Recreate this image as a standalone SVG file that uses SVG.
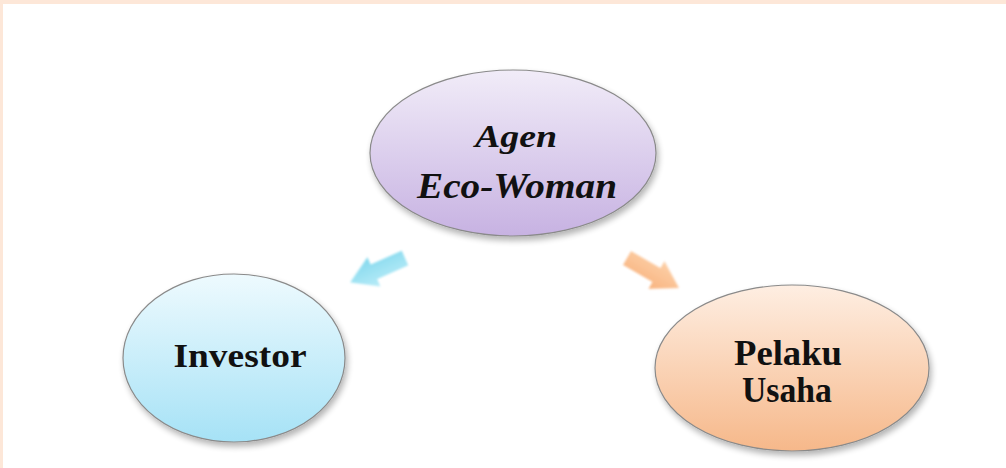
<svg xmlns="http://www.w3.org/2000/svg" width="1006" height="468" viewBox="0 0 1006 468">
<defs>
<linearGradient id="gPurple" x1="0" y1="0" x2="0" y2="1">
<stop offset="0" stop-color="#f1ecf8"/><stop offset="1" stop-color="#c7b2e2"/>
</linearGradient>
<linearGradient id="gBlue" x1="0" y1="0" x2="0" y2="1">
<stop offset="0" stop-color="#eefafe"/><stop offset="1" stop-color="#a6e2f6"/>
</linearGradient>
<linearGradient id="gOrange" x1="0" y1="0" x2="0" y2="1">
<stop offset="0" stop-color="#feeee2"/><stop offset="1" stop-color="#f6b88a"/>
</linearGradient>
<linearGradient id="gArrowBlue" x1="0" y1="0" x2="0" y2="1">
<stop offset="0" stop-color="#b9ecf8"/><stop offset="1" stop-color="#84d9ee"/>
</linearGradient>
<linearGradient id="gArrowOrange" x1="0" y1="0" x2="0" y2="1">
<stop offset="0" stop-color="#fdd0a8"/><stop offset="1" stop-color="#f8b480"/>
</linearGradient>
<filter id="shadow" x="-20%" y="-20%" width="140%" height="150%">
<feGaussianBlur in="SourceAlpha" stdDeviation="3"/>
<feOffset dx="2" dy="4" result="b"/>
<feComponentTransfer><feFuncA type="linear" slope="0.3"/></feComponentTransfer>
<feMerge><feMergeNode/><feMergeNode in="SourceGraphic"/></feMerge>
</filter>
<filter id="soft" x="-30%" y="-30%" width="160%" height="160%">
<feGaussianBlur stdDeviation="1"/>
</filter>
</defs>
<style>
.node ellipse { stroke: #8a8a8a; stroke-width: 1.2; filter: url(#shadow); }
.lbl { font-family: "Liberation Serif", "Times New Roman", serif; font-weight: bold; fill: #111; text-anchor: middle; }
.it { font-style: italic; }
</style>
<rect x="0" y="0" width="1006" height="468" fill="#ffffff"/>
<rect x="0" y="0" width="1006" height="4" fill="#fde7d8"/>
<rect x="0" y="0" width="3" height="468" fill="#fde7d8"/>

<g id="connectors">
<path d="M0,-8 L34,-8 L34,-16 L60,0 L34,16 L34,8 L0,8 Z" fill="url(#gArrowBlue)" filter="url(#soft)" transform="translate(405,258) rotate(156)"/>
<path d="M0,-8 L34,-8 L34,-16 L60,0 L34,16 L34,8 L0,8 Z" fill="url(#gArrowOrange)" filter="url(#soft)" transform="translate(627,258) rotate(30)"/>
</g>

<g id="node-agen" class="node">
<ellipse cx="513" cy="153" rx="143" ry="83" fill="url(#gPurple)"/>
<text class="lbl it" x="516" y="147" font-size="31" textLength="82" lengthAdjust="spacingAndGlyphs">Agen</text>
<text class="lbl it" x="517" y="198" font-size="36" textLength="200" lengthAdjust="spacingAndGlyphs">Eco-Woman</text>
</g>

<g id="node-investor" class="node">
<ellipse cx="234" cy="358" rx="111" ry="84" fill="url(#gBlue)"/>
<text class="lbl" x="240" y="367" font-size="34" textLength="133" lengthAdjust="spacingAndGlyphs">Investor</text>
</g>

<g id="node-pelaku" class="node">
<ellipse cx="792" cy="368" rx="137" ry="83" fill="url(#gOrange)"/>
<text class="lbl" x="788" y="365" font-size="36" textLength="108" lengthAdjust="spacingAndGlyphs">Pelaku</text>
<text class="lbl" x="787" y="402" font-size="35" textLength="90" lengthAdjust="spacingAndGlyphs">Usaha</text>
</g>
</svg>
